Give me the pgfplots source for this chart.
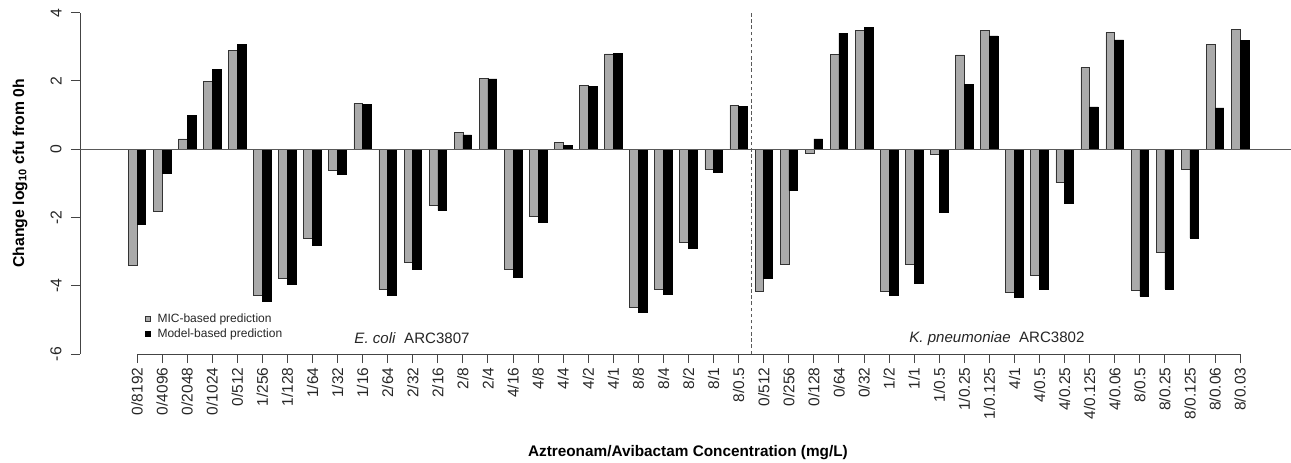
\documentclass[border=0pt]{standalone}
\usepackage{fontspec}
\setmainfont{Liberation Sans}
\usepackage{pgfplots}
\pgfplotsset{compat=1.18}
\usepackage{pgfplotstable}
\definecolor{micgray}{HTML}{AAAAAA}
\definecolor{axgray}{HTML}{444444}
\pgfplotstableread{
x mic model
1 -3.40 -2.21
2 -1.83 -0.70
3 0.30 0.99
4 1.98 2.33
5 2.89 3.08
6 -4.27 -4.45
7 -3.79 -3.97
8 -2.62 -2.82
9 -0.63 -0.74
10 1.34 1.31
11 -4.11 -4.28
12 -3.32 -3.53
13 -1.64 -1.79
14 0.48 0.42
15 2.08 2.06
16 -3.53 -3.74
17 -1.96 -2.14
18 0.19 0.11
19 1.87 1.85
20 2.79 2.80
21 -4.62 -4.79
22 -4.10 -4.25
23 -2.73 -2.89
24 -0.58 -0.68
25 1.29 1.25
26 -4.16 -3.78
27 -3.36 -1.21
28 -0.13 0.30
29 2.78 3.40
30 3.48 3.58
31 -4.16 -4.28
32 -3.37 -3.94
33 -0.14 -1.84
34 2.76 1.89
35 3.47 3.32
36 -4.20 -4.34
37 -3.69 -4.10
38 -0.98 -1.58
39 2.39 1.24
40 3.42 3.20
41 -4.12 -4.31
42 -3.02 -4.10
43 -0.59 -2.60
44 3.06 1.21
45 3.51 3.18
}\datatable
\begin{document}
\begin{tikzpicture}
\useasboundingbox (0,0) rectangle (968.25pt,346.5pt);
\begin{axis}[
  at={(60pt,81pt)}, anchor=south west,
  scale only axis, width=908.25pt, height=256pt,
  xmin=-1.2736, xmax=47.03, ymin=-6, ymax=4,
  enlargelimits=false, clip=false,
  axis x line*=bottom, axis y line*=left,
  axis line style={draw=none},
  tick align=outside, major tick length=6.75pt,
  tick style={axgray, line width=0.75pt},
  xtick={1,...,45},
  xticklabels={0/8192,0/4096,0/2048,0/1024,0/512,1/256,1/128,1/64,1/32,1/16,2/64,2/32,2/16,2/8,2/4,4/16,4/8,4/4,4/2,4/1,8/8,8/4,8/2,8/1,8/0.5,0/512,0/256,0/128,0/64,0/32,1/2,1/1,1/0.5,1/0.25,1/0.125,4/1,4/0.5,4/0.25,4/0.125,4/0.06,8/0.5,8/0.25,8/0.125,8/0.06,8/0.03},
  xticklabel style={rotate=90, anchor=east, font=\fontsize{11.6}{13}\selectfont, text=black!85},
  ytick={-6,-4,-2,0,2,4},
  yticklabels={-6,-4,-2,0,2,4},
  yticklabel style={xshift=-3.5pt, rotate=90, anchor=south, font=\fontsize{11.8}{13}\selectfont, text=black!85},
  xlabel={\bfseries Aztreonam/Avibactam Concentration (mg/L)},
  xlabel style={at={(0.502,-0.288)}, anchor=center, font=\fontsize{11.5}{13}\selectfont},
  ylabel={\bfseries Change log\textsubscript{10} cfu from 0h},
  ylabel style={at={(-0.0495,0.53)}, anchor=center, rotate=0, font=\fontsize{11.8}{13}\selectfont},
  ybar, bar width=0.35,
  legend style={at={(0.053,0.126)}, anchor=north west, draw=none, fill=none,
    inner sep=0pt, row sep=0pt, font=\fontsize{9}{11}\selectfont,
    nodes={inner sep=1.6pt, text=black!85}},
  legend cell align=left,
  legend image code/.code={\draw[#1, line width=0.5pt] (0.5pt,-2.2pt) rectangle (4.7pt,2.0pt); \path[draw=none, fill=none] (0pt,0pt) -- (8.2pt,0pt);},
]
\addplot[bar shift=-0.175, fill=micgray, draw=black!80, line width=0.5pt] table[x=x, y=mic] {\datatable};
\addlegendentry{MIC-based prediction}
\addplot[bar shift=0.175, fill=black, draw=black, line width=0.5pt] table[x=x, y=model] {\datatable};
\addlegendentry{Model-based prediction}
\draw[axgray, line width=0.75pt] (rel axis cs:0,0) -- (rel axis cs:0,1);
\draw[axgray, line width=0.75pt] (axis cs:1,-6) -- (axis cs:45,-6);
\draw[black!65, line width=0.9pt] (rel axis cs:0,0.6) -- (rel axis cs:1,0.6);
\draw[black!65, line width=0.9pt, dash pattern=on 2.6pt off 2pt] (axis cs:25.5,-6) -- (axis cs:25.5,4);
\node[font=\fontsize{11.3}{13}\selectfont, text=black!85] at (axis cs:11.97,-5.54) {{\itshape E. coli\/}\ \ ARC3807};
\node[font=\fontsize{11.3}{13}\selectfont, text=black!85] at (axis cs:35.3,-5.54) {{\itshape K. pneumoniae\/}\ \ ARC3802};
\end{axis}
\end{tikzpicture}
\end{document}
